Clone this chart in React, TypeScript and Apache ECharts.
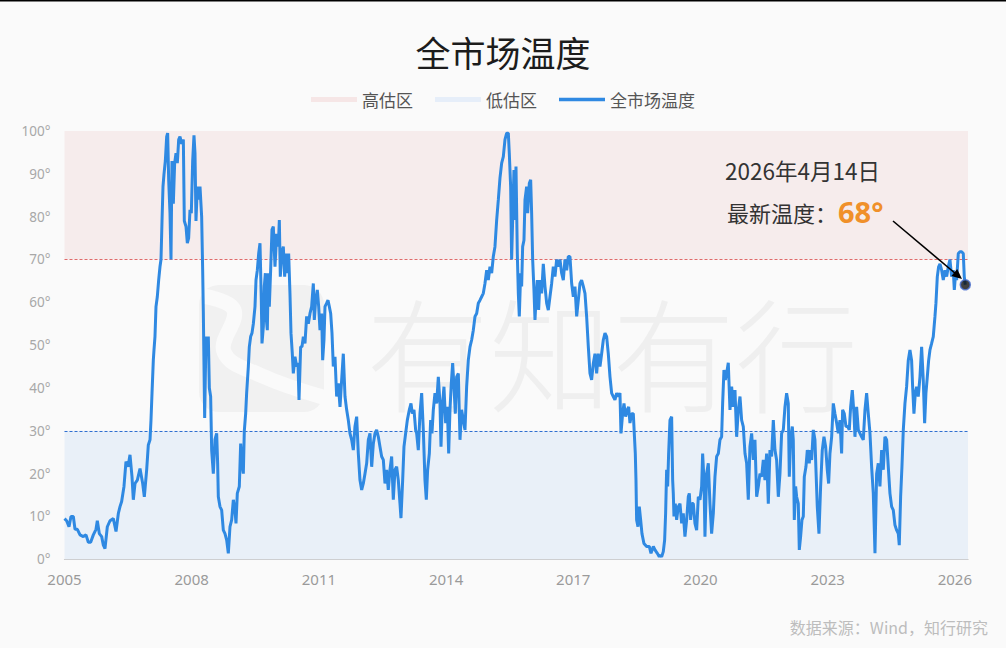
import React, { useEffect, useRef } from "react";
import * as echarts from "echarts";

// ---------- data (decimal year, temperature °) ----------
const START_YEAR = 2005;
const END_YEAR = 2026.31;
const TICK_STEP = 3;

const p2005_2008 = [
  [2005.000, 9.5], [2005.050, 9], [2005.106, 7.6], [2005.153, 10], [2005.208, 10], [2005.248, 7], [2005.303, 7],
  [2005.366, 5.7], [2005.444, 5.3], [2005.507, 5.7], [2005.562, 4], [2005.617, 4], [2005.680, 5.7], [2005.743, 7],
  [2005.774, 9], [2005.821, 6], [2005.877, 5.3], [2005.916, 3.3], [2005.955, 2.5], [2006.010, 7.6], [2006.073, 9],
  [2006.152, 9.5], [2006.215, 6.5], [2006.270, 10.7], [2006.309, 12.3], [2006.348, 13.5], [2006.403, 17],
  [2006.450, 22.8], [2006.498, 21.6], [2006.545, 24.4], [2006.592, 19.3], [2006.623, 13.9], [2006.663, 17.7],
  [2006.718, 18.5], [2006.781, 21.2], [2006.844, 17.7], [2006.883, 14.6], [2006.938, 20.9], [2006.977, 26.7],
  [2007.017, 27.9], [2007.040, 32.5], [2007.064, 38.8], [2007.095, 46.5], [2007.111, 48.9], [2007.134, 52],
  [2007.158, 59], [2007.189, 61.3], [2007.221, 65.2], [2007.252, 68.3], [2007.276, 70], [2007.300, 79],
  [2007.323, 87], [2007.347, 90], [2007.378, 93], [2007.410, 98.7], [2007.433, 99.5], [2007.457, 88.6],
  [2007.488, 80.8], [2007.512, 70], [2007.535, 93], [2007.567, 83], [2007.598, 92.5], [2007.630, 94.8],
  [2007.661, 92.5], [2007.693, 98], [2007.724, 98.7], [2007.763, 97], [2007.803, 98], [2007.826, 79],
  [2007.866, 77.7], [2007.897, 73.8], [2007.928, 75], [2007.960, 81.6], [2007.991, 80.8],
];

const p2008_2011 = [
  [2008.023, 93], [2008.054, 99], [2008.078, 94.8], [2008.101, 79], [2008.133, 87], [2008.164, 84], [2008.196, 87],
  [2008.235, 80], [2008.259, 67.5], [2008.274, 58], [2008.306, 33], [2008.337, 52], [2008.369, 48], [2008.392, 52],
  [2008.416, 40], [2008.447, 38], [2008.471, 25.5], [2008.510, 20], [2008.550, 28], [2008.589, 29.4],
  [2008.612, 22.4], [2008.628, 14.6], [2008.667, 12.3], [2008.707, 11.5], [2008.746, 6.8], [2008.785, 6],
  [2008.825, 4.5], [2008.864, 1.4], [2008.903, 7.6], [2008.943, 9.2], [2008.982, 13.9], [2009.021, 11.5],
  [2009.045, 8.4], [2009.076, 15.4], [2009.123, 17], [2009.155, 27], [2009.186, 22.4], [2009.218, 20],
  [2009.241, 30], [2009.273, 34], [2009.296, 38.8], [2009.336, 45], [2009.359, 49.6], [2009.391, 52],
  [2009.422, 52.8], [2009.454, 55], [2009.493, 59], [2009.517, 65.2], [2009.548, 67.5], [2009.580, 71.4],
  [2009.611, 73.8], [2009.642, 60.5], [2009.658, 50.4], [2009.690, 54.3], [2009.713, 63.7], [2009.737, 66.8],
  [2009.760, 56], [2009.784, 53.5], [2009.807, 66.8], [2009.831, 59], [2009.862, 67.5], [2009.894, 77],
  [2009.925, 77.7], [2009.965, 68.3], [2010.004, 76], [2010.043, 73], [2010.067, 79.2], [2010.090, 66],
  [2010.122, 71.4], [2010.161, 73], [2010.193, 66], [2010.224, 71.4], [2010.255, 66.8], [2010.287, 71.4],
  [2010.318, 62], [2010.342, 52.8], [2010.373, 48], [2010.397, 43.4], [2010.436, 47.3], [2010.476, 45],
  [2010.507, 45.8], [2010.531, 37.2], [2010.570, 49.6], [2010.601, 49.6], [2010.633, 52], [2010.672, 50.4],
  [2010.711, 56.7], [2010.751, 55], [2010.790, 57.4], [2010.829, 59], [2010.869, 64.4], [2010.892, 55.9],
  [2010.924, 60.5], [2010.963, 62.9], [2010.995, 59],
];

const p2011_2014 = [
  [2011.026, 53.5], [2011.065, 57.4], [2011.089, 46.5], [2011.120, 51.2], [2011.144, 59], [2011.183, 59.8],
  [2011.215, 60.5], [2011.246, 59], [2011.278, 57.4], [2011.309, 52.8], [2011.340, 45], [2011.380, 47.3],
  [2011.419, 38], [2011.458, 41.1], [2011.498, 35.6], [2011.537, 41.9], [2011.576, 48], [2011.616, 38],
  [2011.655, 34.9], [2011.694, 32.5], [2011.733, 29.4], [2011.773, 27.9], [2011.812, 25.5], [2011.851, 31],
  [2011.891, 33.3], [2011.930, 24.7], [2011.969, 18.5], [2012.009, 16.2], [2012.048, 17.7], [2012.087, 20],
  [2012.127, 22.4], [2012.166, 27.9], [2012.205, 29.4], [2012.245, 21.6], [2012.284, 27], [2012.323, 29.4],
  [2012.362, 30.2], [2012.402, 28.6], [2012.441, 26.3], [2012.480, 24], [2012.520, 23.2], [2012.559, 17.7],
  [2012.598, 20.9], [2012.637, 16.2], [2012.677, 20.9], [2012.716, 24], [2012.755, 13.9], [2012.795, 20.9],
  [2012.834, 21.6], [2012.873, 18.5], [2012.913, 13], [2012.936, 9.6], [2012.976, 18.5], [2013.007, 26.3],
  [2013.046, 29.4], [2013.086, 32.5], [2013.133, 34.9], [2013.172, 36.4], [2013.204, 34], [2013.243, 34.9],
  [2013.282, 30.2], [2013.306, 29.4], [2013.345, 25.5], [2013.384, 34], [2013.424, 38.8], [2013.463, 30.2],
  [2013.502, 18.5], [2013.534, 13.9], [2013.565, 20.9], [2013.605, 24.7], [2013.636, 32.5], [2013.667, 29.4],
  [2013.699, 34.9], [2013.738, 38.8], [2013.778, 36.4], [2013.817, 42.6], [2013.856, 36.4], [2013.880, 26.3],
  [2013.911, 35.6], [2013.950, 40.3], [2013.990, 31.8],
];

const p2014_2017 = [
  [2014.029, 35.6], [2014.061, 24.7], [2014.092, 34.9], [2014.123, 41.1], [2014.155, 45.8], [2014.186, 40.3],
  [2014.218, 34], [2014.249, 42.6], [2014.289, 43.4], [2014.328, 27.9], [2014.367, 34.9], [2014.406, 32.5],
  [2014.446, 30.2], [2014.485, 40.3], [2014.524, 46.5], [2014.564, 49.6], [2014.603, 51.2], [2014.642, 53.5],
  [2014.682, 56.7], [2014.721, 57.4], [2014.760, 59.8], [2014.800, 60.5], [2014.839, 61.3], [2014.878, 62.1],
  [2014.917, 64.4], [2014.957, 67.5], [2014.996, 65.2], [2015.035, 68.3], [2015.075, 66.8], [2015.114, 70.7],
  [2015.153, 73], [2015.193, 79.2], [2015.232, 83.9], [2015.271, 89], [2015.311, 92.5], [2015.350, 94],
  [2015.389, 98], [2015.429, 99.5], [2015.468, 99.5], [2015.491, 94.8], [2015.523, 87], [2015.546, 70],
  [2015.570, 79.2], [2015.601, 90.9], [2015.625, 79.2], [2015.649, 91.7], [2015.680, 71.4], [2015.704, 62.1],
  [2015.727, 56.7], [2015.759, 66.8], [2015.782, 63.7], [2015.806, 73], [2015.837, 74.5], [2015.861, 83.9],
  [2015.900, 87], [2015.924, 80.8], [2015.963, 87.8], [2015.995, 88.6], [2016.018, 80.8], [2016.042, 70],
  [2016.073, 62.8], [2016.097, 55.9], [2016.120, 60.5], [2016.152, 65.2], [2016.183, 58.2], [2016.215, 65.2],
  [2016.254, 62.1], [2016.293, 69], [2016.333, 63.7], [2016.372, 59.8], [2016.411, 58.2], [2016.450, 61.3],
  [2016.490, 64.4], [2016.529, 68.3], [2016.568, 66], [2016.608, 70], [2016.647, 68.3], [2016.686, 70],
  [2016.726, 66.8], [2016.765, 65.2], [2016.804, 70], [2016.844, 67.5], [2016.883, 70.7], [2016.922, 70.7],
  [2016.962, 64.4],
];

const p2017_2020 = [
  [2017.001, 61.3], [2017.040, 63.7], [2017.080, 56.7], [2017.119, 60.5], [2017.158, 64.4], [2017.197, 65.2],
  [2017.237, 63.7], [2017.276, 62.1], [2017.315, 56.7], [2017.355, 49.6], [2017.394, 43.4], [2017.433, 41.9],
  [2017.473, 45.8], [2017.512, 48], [2017.551, 43.4], [2017.590, 48], [2017.630, 45], [2017.669, 48],
  [2017.708, 51.2], [2017.748, 52.8], [2017.787, 52], [2017.826, 48], [2017.866, 42.6], [2017.905, 38.8],
  [2017.944, 38], [2017.983, 37.2], [2018.023, 38.8], [2018.062, 38], [2018.101, 38.8], [2018.125, 29.4],
  [2018.164, 34], [2018.196, 36.4], [2018.235, 33.3], [2018.274, 34.9], [2018.306, 35.6], [2018.337, 31.8],
  [2018.377, 34], [2018.416, 34], [2018.439, 29.4], [2018.463, 24.7], [2018.479, 18.5], [2018.494, 9.2],
  [2018.526, 7.6], [2018.557, 12.3], [2018.589, 9.2], [2018.620, 6], [2018.667, 3.7], [2018.730, 3],
  [2018.793, 3], [2018.833, 1.4], [2018.888, 3], [2018.927, 2.2], [2018.982, 1.4], [2019.029, 0.6],
  [2019.045, 1], [2019.084, 0.6], [2019.123, 1.8], [2019.155, 4.5], [2019.178, 10.7], [2019.202, 20.9],
  [2019.226, 17], [2019.249, 24.7], [2019.281, 32.5], [2019.320, 33.3], [2019.344, 18.5], [2019.359, 15.4],
  [2019.375, 10], [2019.406, 13], [2019.438, 9.2], [2019.477, 12.3], [2019.517, 13], [2019.556, 8.4],
  [2019.595, 10.7], [2019.634, 5.3], [2019.674, 9.2], [2019.713, 14.6], [2019.737, 15.4], [2019.768, 9.2],
  [2019.800, 13], [2019.831, 13], [2019.870, 8.4], [2019.910, 6.8], [2019.949, 14.6], [2019.988, 13.9],
];

const p2020_2023 = [
  [2020.028, 17], [2020.051, 24.7], [2020.083, 18.5], [2020.106, 5.3], [2020.145, 20], [2020.185, 22.4],
  [2020.224, 13], [2020.263, 6], [2020.303, 10.7], [2020.342, 19.3], [2020.381, 24], [2020.421, 24.7],
  [2020.460, 27.9], [2020.499, 28.6], [2020.523, 36.4], [2020.554, 44.2], [2020.586, 41.9], [2020.617, 43.4],
  [2020.656, 45.9], [2020.696, 34.9], [2020.735, 40.3], [2020.774, 35.6], [2020.814, 39.5], [2020.853, 28.6],
  [2020.892, 34.9], [2020.932, 38], [2020.971, 32.5], [2021.010, 31], [2021.050, 24.7], [2021.089, 22.4],
  [2021.128, 13.9], [2021.167, 26.3], [2021.207, 29.4], [2021.246, 23.2], [2021.285, 27.9], [2021.325, 14.6],
  [2021.364, 17], [2021.403, 20], [2021.443, 19.3], [2021.482, 23.2], [2021.521, 18.5], [2021.560, 24.7],
  [2021.600, 13], [2021.639, 25.5], [2021.678, 24], [2021.718, 32.5], [2021.757, 25.5], [2021.796, 23.2],
  [2021.836, 14.6], [2021.875, 20], [2021.914, 29.4], [2021.954, 30.2], [2021.993, 35.6], [2022.032, 38.8],
  [2022.071, 36.4], [2022.095, 19.3], [2022.127, 27.9], [2022.166, 31], [2022.189, 27.9], [2022.213, 9.2],
  [2022.244, 17], [2022.268, 14.6], [2022.307, 13], [2022.331, 2.2], [2022.362, 5.3], [2022.394, 9.2],
  [2022.425, 10], [2022.449, 19.3], [2022.488, 21.6], [2022.520, 25.5], [2022.567, 22.4], [2022.583, 25.5],
  [2022.622, 23.2], [2022.661, 30.2], [2022.700, 27.9], [2022.724, 20.9], [2022.755, 12.3], [2022.795, 6],
  [2022.834, 17], [2022.873, 25.5], [2022.913, 28.6], [2022.952, 26.3], [2022.991, 20.9],
];

const p2023_2026 = [
  [2023.023, 17.7], [2023.054, 24.7], [2023.094, 28.6], [2023.133, 36.4], [2023.172, 34], [2023.212, 31.8],
  [2023.251, 29.4], [2023.290, 32.5], [2023.329, 24.7], [2023.353, 34.9], [2023.392, 34], [2023.432, 31],
  [2023.471, 31], [2023.510, 30.2], [2023.542, 35.6], [2023.581, 39.5], [2023.620, 34], [2023.644, 28.6],
  [2023.683, 35.6], [2023.723, 30.2], [2023.762, 29.4], [2023.801, 28.6], [2023.840, 27.9], [2023.880, 34.9],
  [2023.919, 38.8], [2023.958, 34], [2023.998, 29.4], [2024.037, 21.6], [2024.076, 15.4], [2024.116, 1.4],
  [2024.155, 20], [2024.194, 22.4], [2024.233, 17], [2024.273, 25.5], [2024.312, 20.9], [2024.351, 28.6],
  [2024.391, 27.9], [2024.430, 21.6], [2024.469, 15.4], [2024.509, 12.3], [2024.548, 11.5], [2024.587, 8],
  [2024.627, 6.8], [2024.666, 6], [2024.689, 3.3], [2024.721, 14.6], [2024.752, 21.6], [2024.784, 30.2],
  [2024.823, 36.4], [2024.862, 40.3], [2024.901, 46.4], [2024.941, 48.9], [2024.980, 46.4], [2025.004, 40.3],
  [2025.035, 34], [2025.067, 38.8], [2025.098, 40.3], [2025.137, 38], [2025.177, 42.6], [2025.216, 49.6],
  [2025.255, 41.9], [2025.287, 31.8], [2025.318, 38.8], [2025.350, 42.6], [2025.381, 46.4], [2025.413, 48.9],
  [2025.452, 50.4], [2025.491, 52], [2025.531, 56.7], [2025.554, 59.8], [2025.586, 66], [2025.617, 68.3],
  [2025.649, 69], [2025.688, 67.5], [2025.727, 65.2], [2025.767, 67.5], [2025.806, 66], [2025.845, 68.3],
  [2025.884, 70], [2025.924, 66], [2025.963, 67.5], [2025.987, 62.9], [2026.018, 66.8], [2026.042, 65.2],
  [2026.081, 71.4], [2026.120, 71.8], [2026.160, 71.8], [2026.199, 71.4], [2026.222, 66], [2026.246, 64.1],
];

const HIGH_ZONE = [70, 100];
const LOW_ZONE = [0, 30];
const LATEST_DATE_TEXT = "2026年4月14日";
const LATEST_TEMP_TEXT = "68°";

const allPoints = [
  ...p2005_2008, ...p2008_2011, ...p2011_2014, ...p2014_2017,
  ...p2017_2020, ...p2020_2023, ...p2023_2026,
].map(([y, v]) => [y - START_YEAR, v]);
const lastPoint = allPoints[allPoints.length - 1];

const FONT = "'Noto Sans', 'Noto Sans CJK SC', sans-serif";
const CJK = "'Noto Sans CJK SC', 'Noto Sans', sans-serif";
const LINE_COLOR = "#2f89e2";

function buildOption() {
  return {
    animation: false,
    backgroundColor: "#fafafa",
    textStyle: { fontFamily: FONT },
    title: {
      text: "全市场温度",
      left: "center",
      top: 29,
      textStyle: { fontFamily: CJK, fontSize: 35, fontWeight: "normal", color: "#1c1c1c" },
    },
    legend: {
      top: 86,
      left: "center",
      itemWidth: 46,
      itemHeight: 5,
      itemGap: 22,
      symbolKeepAspect: true,
      textStyle: { fontFamily: CJK, fontSize: 17, color: "#555" },
      data: [
        { name: "高估区", icon: "rect", itemStyle: { color: "#f6e6e6" } },
        { name: "低估区", icon: "rect", itemStyle: { color: "#e6eef9" } },
        { name: "全市场温度", icon: "path://M0,0H42V3H0Z", itemStyle: { color: LINE_COLOR } },
      ],
    },
    grid: { left: 64.5, right: 38, top: 131, bottom: 88.7 },
    xAxis: {
      type: "value",
      min: 0,
      max: END_YEAR - START_YEAR,
      interval: TICK_STEP,
      axisLine: { show: true, lineStyle: { color: "#c4c4c4", width: 1.2 } },
      axisTick: { show: false },
      splitLine: { show: false },
      axisLabel: {
        margin: 12,
        fontSize: 15,
        color: "#9a9a9a",
        showMaxLabel: false,
        formatter: (v: number) => String(Math.round(v + START_YEAR)),
      },
    },
    yAxis: {
      type: "value",
      min: 0,
      max: 100,
      interval: 10,
      axisLine: { show: false },
      axisTick: { show: false },
      splitLine: { show: false },
      axisLabel: { margin: 14, fontSize: 13.5, color: "#a8a8a8", formatter: "{value}°" },
    },
    series: [
      { name: "高估区", type: "line", data: [], itemStyle: { color: "#f6e6e6" } },
      { name: "低估区", type: "line", data: [], itemStyle: { color: "#e6eef9" } },
      {
        name: "全市场温度",
        type: "line",
        data: allPoints,
        symbol: "none",
        showSymbol: false,
        z: 5,
        lineStyle: { color: LINE_COLOR, width: 3 },
        itemStyle: { color: LINE_COLOR },
        markArea: {
          silent: true,
          label: { show: false },
          data: [
            [{ yAxis: HIGH_ZONE[0], itemStyle: { color: "#f6ecec" } }, { yAxis: HIGH_ZONE[1] }],
            [{ yAxis: LOW_ZONE[0], itemStyle: { color: "#e9f0f8" } }, { yAxis: LOW_ZONE[1] }],
          ],
        },
        markLine: {
          silent: true,
          symbol: "none",
          label: { show: false },
          lineStyle: { type: [3, 2], width: 1 },
          data: [
            { yAxis: HIGH_ZONE[0], lineStyle: { color: "#e06a6a", type: [3, 2], width: 1, opacity: 1 } },
            { yAxis: LOW_ZONE[1], lineStyle: { color: "#2f6fd0", type: [3, 2], width: 1, opacity: 1 } },
          ],
        },
      },
      {
        name: "最新",
        type: "scatter",
        data: [lastPoint],
        symbolSize: 10,
        z: 8,
        itemStyle: { color: "#111", borderColor: "#4a6fd0", borderWidth: 1.6 },
      },
    ],
    graphic: [
      { type: "rect", z: 100, shape: { x: 0, y: 0, width: 1006, height: 1.5 }, style: { fill: "#000" } },
      // watermark logo
      {
        type: "rect",
        z: 0,
        silent: true,
        shape: { x: 199, y: 285, width: 125, height: 127, r: 20 },
        style: { fill: "#f1f1f1" },
      },
      {
        type: "polyline",
        z: 0,
        silent: true,
        shape: { points: [[203, 296], [234, 310], [224, 352], [260, 375], [326, 398]], smooth: 0.4 },
        style: { stroke: "#fafafa", lineWidth: 15, fill: "none" },
      },
      {
        type: "text",
        z: 0,
        silent: true,
        x: 366,
        y: 349,
        style: {
          text: "有知有行",
          font: `300 123px ${CJK}`,
          fill: "#efefef",
          verticalAlign: "middle",
          align: "left",
        },
      },
      // annotation
      {
        type: "text",
        z: 100,
        x: 725,
        y: 170,
        style: { text: LATEST_DATE_TEXT, font: `22.5px ${CJK}`, fill: "#333", verticalAlign: "middle" },
      },
      {
        type: "text",
        z: 100,
        x: 727,
        y: 212,
        style: { text: "最新温度：", font: `22px ${CJK}`, fill: "#333", verticalAlign: "middle" },
      },
      {
        type: "text",
        z: 100,
        x: 838,
        y: 211,
        style: { text: LATEST_TEMP_TEXT, font: `bold 29px ${FONT}`, fill: "#f0902a", verticalAlign: "middle" },
      },
      {
        type: "line",
        z: 100,
        shape: { x1: 893, y1: 221, x2: 956, y2: 274 },
        style: { stroke: "#000", lineWidth: 1.6 },
      },
      {
        type: "polygon",
        z: 100,
        shape: { points: [[962, 279], [951.4, 276.1], [957.2, 269.1]] },
        style: { fill: "#000" },
      },
      {
        type: "text",
        z: 100,
        x: 988,
        y: 627,
        style: {
          text: "数据来源：Wind，知行研究",
          font: `16px ${CJK}`,
          fill: "#bdbdbd",
          align: "right",
          verticalAlign: "middle",
        },
      },
    ],
  };
}

export default function App() {
  const ref = useRef<HTMLDivElement>(null);
  useEffect(() => {
    if (!ref.current) return;
    const chart = echarts.init(ref.current, null, { renderer: "svg" });
    chart.setOption(buildOption() as any);
    return () => chart.dispose();
  }, []);
  return (
    <div
      ref={ref}
      style={{ position: "fixed", left: 0, top: 0, width: 1006, height: 648 }}
    />
  );
}
